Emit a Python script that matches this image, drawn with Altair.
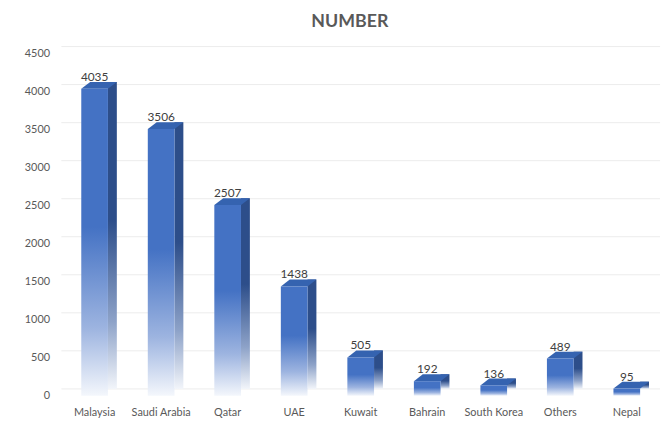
import altair as alt
import pandas as pd

countries = ["Malaysia", "Saudi Arabia", "Qatar", "UAE", "Kuwait", "Bahrain", "South Korea", "Others", "Nepal"]
numbers = [4035, 3506, 2507, 1438, 505, 192, 136, 489, 95]
y_ticks = [0, 500, 1000, 1500, 2000, 2500, 3000, 3500, 4000, 4500]

df = pd.DataFrame({"country": countries, "number": numbers})
grid_df = pd.DataFrame({"number": y_ticks})

FONT = "Lato"
LABEL_COLOR = "#595959"

x_enc = alt.X(
    "country:N",
    sort=countries,
    scale=alt.Scale(paddingInner=0, paddingOuter=0),
    axis=alt.Axis(title=None, labelAngle=0, labelFont=FONT, labelFontSize=11,
                  labelColor=LABEL_COLOR, domain=False, ticks=False, labelPadding=11, grid=False),
)
y_axis = alt.Axis(title=None, values=y_ticks, format="d", grid=False, domain=False, ticks=False,
                  labelPadding=12, labelFontSize=11, labelColor=LABEL_COLOR, labelFont=FONT)
y_enc = alt.Y("number:Q", scale=alt.Scale(domain=[0, 4500], nice=False), axis=y_axis)

front_grad = alt.Gradient(
    gradient="linear",
    stops=[
        alt.GradientStop(color="#4472C4", offset=0),
        alt.GradientStop(color="#4472C4", offset=0.45),
        alt.GradientStop(color="#9db4e0", offset=0.78),
        alt.GradientStop(color="#f4f7fc", offset=1),
    ],
    x1=0, x2=0, y1=0, y2=1,
)
side_grad = alt.Gradient(
    gradient="linear",
    stops=[
        alt.GradientStop(color="#2D4E8A", offset=0),
        alt.GradientStop(color="#2D4E8A", offset=0.45),
        alt.GradientStop(color="#8da2c8", offset=0.78),
        alt.GradientStop(color="#f2f5fa", offset=1),
    ],
    x1=0, x2=0, y1=0, y2=1,
)

grid = alt.Chart(grid_df).mark_rule(color="#ececec", strokeWidth=1, yOffset=-7).encode(y=y_enc)

side = alt.Chart(df).mark_bar(width=9, xOffset=18, yOffset=-7, y2Offset=-7, color=side_grad).encode(
    x=x_enc, y=y_enc
)
top_face = alt.Chart(df).mark_point(
    shape="M -1.35 0 L 1.35 0 L 2.25 -0.7 L -0.45 -0.7 Z",
    size=400, filled=True, color="#3563B0", opacity=1, strokeWidth=0,
).encode(x=x_enc, y=y_enc)
front = alt.Chart(df).mark_bar(width=27, color=front_grad).encode(x=x_enc, y=y_enc)
labels = alt.Chart(df).mark_text(
    dy=-8, baseline="alphabetic", align="center", font=FONT, fontSize=12, color="#404040"
).encode(x=x_enc, y=y_enc, text=alt.Text("number:Q", format="d"))

chart = alt.layer(grid, side, top_face, front, labels).properties(
    width=606,
    height=346.5,
    autosize=alt.AutoSizeParams(type="none"),
    padding={"left": 54, "top": 43.5, "right": 4, "bottom": 24},
    title=alt.TitleParams("NUMBER", font=FONT, fontSize=18, fontWeight="bold", color=LABEL_COLOR,
                          anchor="middle", dx=-11, offset=15),
).configure(background="white").configure_view(stroke=None)

chart.save("out.html", embed_options={"renderer": "svg", "actions": False})
